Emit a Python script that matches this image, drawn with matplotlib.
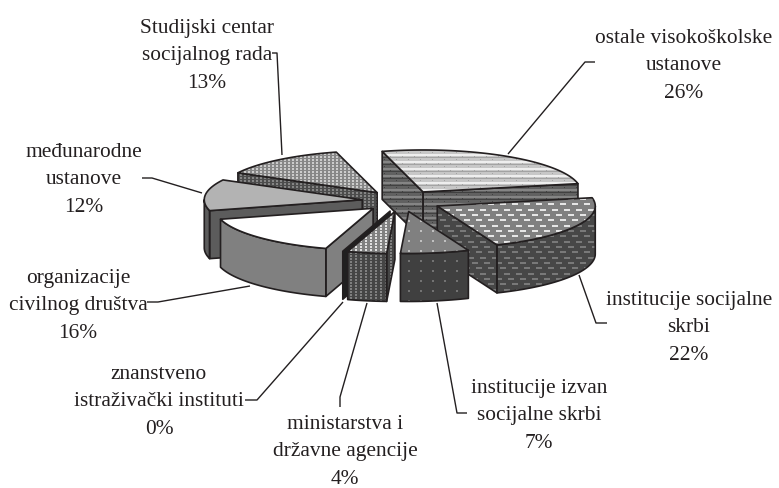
import numpy as np
import matplotlib
matplotlib.use("Agg")
import matplotlib.pyplot as plt
from matplotlib.patches import Polygon

# ---------- data ----------
categories = ["ostale visokoškolske\nustanove", "institucije socijalne\nskrbi",
              "institucije izvan\nsocijalne skrbi", "ministarstva i\ndržavne agencije",
              "znanstveno\nistraživački instituti", "organizacije\ncivilnog društva",
              "međunarodne\nustanove", "Studijski centar\nsocijalnog rada"]
shares = [26, 22, 7, 4, 0, 16, 12, 13]

# ---------- layout ----------
W, H = 779, 488
CX, CY = 402, 201
RX, RY = 158, 42
DEPTH = 48
EXPLODE = 40
START = 345.0
INK = "#231f20"
FONT = 15.4

label_pos = [(684, 43), (689, 305), (539, 393), (345, 429), (159, 379), (78, 283), (84, 157), (207, 33)]
line_gap = 27.4
leaders = [
    [(595, 62), (585, 62), (508, 154)],
    [(607, 323), (596, 323), (579, 275)],
    [(467, 413), (457, 413), (437, 303)],
    [(340, 407), (340, 397), (367, 303)],
    [(245, 400), (257, 400), (343, 302)],
    [(147, 302), (158, 302), (250, 286)],
    [(142, 178), (152, 178), (202, 193)],
    [(272, 53), (277, 53), (282, 155)],
]


def brick(base, hi, lo):
    t = np.full((7, 24), base, float)
    t[0, :] = hi
    t[1, :] = hi
    t[3, :] = lo
    t[5, ::12] = lo
    t[2, 6::12] = lo
    return t


def dash(base, hi):
    t = np.full((16, 24), base, float)
    for r, c in [(1, 0), (6, 4), (11, 8)]:
        for k in (0, 12):
            idx = (np.arange(6) + c + k) % 24
            t[r, idx] = hi
            t[r + 1, idx] = hi
    return t


def dots(base, hi, px, py, size=2):
    t = np.full((py, px), base, float)
    t[:size, :size] = hi
    return t


def solid(v):
    return np.full((2, 2), v, float)


# (top tile, wall tile) per slice
styles = [
    (brick(.78, .93, .64), brick(.38, .52, .26)),
    (dash(.50, .90), dash(.28, .48)),
    (dots(.50, .75, 12, 10), dots(.25, .45, 12, 10)),
    (dots(.50, .88, 5, 3), dots(.27, .50, 5, 3)),
    (solid(.13), solid(.13)),
    (solid(1.0), solid(.50)),
    (solid(.70), solid(.36)),
    (dots(.53, .80, 4, 3), dots(.30, .52, 4, 3)),
]
paint_order = [7, 0, 6, 1, 5, 4, 2, 3]

fig = plt.figure(figsize=(W / 100, H / 100), dpi=100)
ax = fig.add_axes([0, 0, 1, 1])
ax.set_xlim(0, W)
ax.set_ylim(H, 0)
ax.axis("off")

k = RY / RX
totals = np.cumsum([0] + shares) / sum(shares) * 360 + START


def fill(poly, tile, z):
    rep = (H // tile.shape[0] + 1, W // tile.shape[1] + 1)
    img = np.tile(tile, rep)[:H, :W]
    im = ax.imshow(img, cmap="gray", vmin=0, vmax=1, extent=(0, W, H, 0),
                   interpolation="bilinear", aspect="auto", zorder=z)
    patch = Polygon(poly, closed=True, transform=ax.transData, fc="none", ec="none")
    ax.add_patch(patch)
    im.set_clip_path(patch)
    ax.add_patch(Polygon(poly, closed=True, fc="none", ec=INK, lw=1.2, joinstyle="round", zorder=z + .1))


for n, i in enumerate(paint_order):
    a, b = totals[i], totals[i + 1]
    mid = np.radians((a + b) / 2)
    ox = CX + EXPLODE * np.sin(mid)
    oy = CY - EXPLODE * k * np.cos(mid)

    def rim(deg):
        t = np.radians(deg)
        return np.column_stack([ox + RX * np.sin(t), oy - RY * np.cos(t)])

    apex = np.array([[ox, oy]])
    down = np.array([0, DEPTH])
    top_tile, wall_tile = styles[i]
    z = 2 + n
    # radial walls
    if np.cos(np.radians(a - 90)) < 0:
        p = np.vstack([apex, rim([a]), rim([a]) + down, apex + down])
        fill(p, wall_tile, z)
    if np.cos(np.radians(b + 90)) < 0:
        p = np.vstack([apex, rim([b]), rim([b]) + down, apex + down])
        fill(p, wall_tile, z)
    # outer curved wall
    for m in (0, 1):
        lo, hi = max(a, 90 + 360 * m), min(b, 270 + 360 * m)
        if hi > lo:
            arc = rim(np.linspace(lo, hi, 40))
            fill(np.vstack([arc, arc[::-1] + down]), wall_tile, z)
    # top face
    if b > a:
        fill(np.vstack([apex, rim(np.linspace(a, b, 60))]), top_tile, z + .5)

for pts in leaders:
    xs, ys = zip(*pts)
    ax.plot(xs, ys, color=INK, lw=1.0, zorder=1, solid_capstyle="butt")

for name, v, (x, y) in zip(categories, shares, label_pos):
    lines = name.split("\n") + [f"{v}%"]
    for j, s in enumerate(lines):
        ax.text(x, y + j * line_gap, s, ha="center", va="baseline", fontsize=FONT,
                family="Liberation Serif", color=INK, zorder=30)

fig.savefig("out.png", dpi=100)
